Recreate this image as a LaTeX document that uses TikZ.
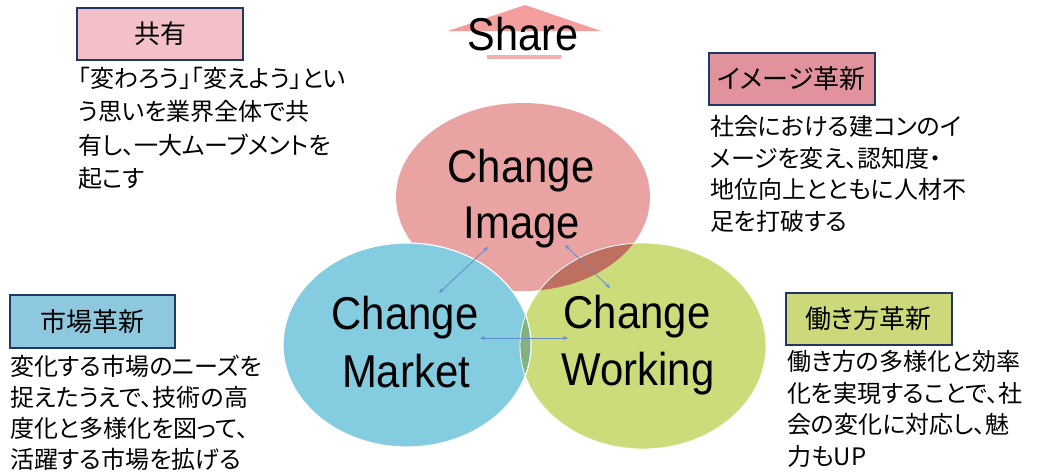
\documentclass[tikz,border=0pt]{standalone}
\usepackage{fontspec}
\setmainfont{Liberation Sans}
\newfontfamily\jp[RawFeature=+palt]{Noto Sans CJK JP}
\usetikzlibrary{arrows.meta}
\definecolor{imgpink}{RGB}{234,163,163}
\definecolor{mktblue}{RGB}{132,204,224}
\definecolor{wrkgreen}{RGB}{204,220,122}
\definecolor{lensrg}{RGB}{190,112,96}
\definecolor{lensbg}{RGB}{128,178,128}
\definecolor{sharepink}{RGB}{244,158,158}
\definecolor{navy}{RGB}{32,56,100}
\definecolor{lbpink}{RGB}{242,192,198}
\definecolor{lbred}{RGB}{226,146,156}
\definecolor{lbblue}{RGB}{142,200,222}
\definecolor{lbgreen}{RGB}{205,216,122}
\definecolor{arrowblue}{RGB}{96,140,205}
\tikzset{
  bigword/.style={font=\fontsize{46}{46}\selectfont, inner sep=0pt, anchor=base},
  labelbox/.style={draw=navy, line width=2pt, minimum width=166pt, minimum height=52pt, inner sep=0pt, font=\jp\fontsize{26}{26}\selectfont},
  bodytext/.style={align=left, anchor=north west, inner sep=0pt, font=\jp\fontsize{24}{32}\selectfont},
  link/.style={arrowblue, line width=0.8pt, {Stealth[length=5pt,width=4pt]}-{Stealth[length=5pt,width=4pt]}}
}
\begin{document}
\begin{tikzpicture}[x=1pt,y=-1pt]
\useasboundingbox (0,0) rectangle (1037,474);
\fill[white] (0,0) rectangle (1037,474);

% Share arrow
\fill[sharepink] (448,31) -- (525,5) -- (601,31) -- cycle;
\fill[sharepink!85] (487,55) rectangle (561,59);
\node[bigword] (share) at (523,50) {\scalebox{0.9}[1]{Share}};

% ellipses
\fill[imgpink] (523,197) ellipse (127 and 94);
\fill[mktblue] (407,345) ellipse (124 and 102);
\fill[wrkgreen] (643,346) ellipse (123 and 103);
\begin{scope}
  \clip (643,346) ellipse (123 and 103);
  \fill[lensrg] (523,197) ellipse (127 and 94);
  \fill[lensbg] (407,345) ellipse (124 and 102);
\end{scope}
\draw[white, line width=1.2pt] (407,345) ellipse (124 and 102);
\draw[white, line width=0.8pt] (643,346) ellipse (123 and 103);

% big words
\node[bigword] (imgA) at (521,182) {\scalebox{0.91}[1]{Change}};
\node[bigword] (imgB) at (522,238) {\scalebox{0.91}[1]{Image}};
\node[bigword] (mktA) at (405,329) {\scalebox{0.91}[1]{Change}};
\node[bigword] (mktB) at (406,387) {\scalebox{0.91}[1]{Market}};
\node[bigword] (wrkA) at (637,328) {\scalebox{0.91}[1]{Change}};
\node[bigword] (wrkB) at (638,385) {\scalebox{0.91}[1]{Working}};

% arrows
\coordinate (p1) at (488,247);
\coordinate (p2) at (439,293);
\coordinate (q1) at (565,245);
\coordinate (q2) at (610,288);
\coordinate (r1) at (480,338);
\coordinate (r2) at (568,338);
\draw[link] (p1) -- (p2);
\draw[link] (q1) -- (q2);
\draw[link] (r1) -- (r2);

% label boxes
\node[labelbox, fill=lbpink] (lshare) at (160,34) {共有};
\node[labelbox, fill=lbred] (limage) at (791.5,79) {イメージ革新};
\node[labelbox, fill=lbblue, minimum height=53pt, minimum width=165pt] (lmarket) at (92.5,321.5) {市場革新};
\node[labelbox, fill=lbgreen] (lwork) at (868.5,319) {働き方革新};

% body texts
\node[bodytext, font=\jp\fontsize{24}{33.3}\selectfont] (tshare) at (78,67) {「変わろう」「変えよう」とい\\う思いを業界全体で共\\有し、一大ムーブメントを\\起こす};
\node[bodytext, font=\jp\fontsize{24}{31.7}\selectfont] (timage) at (710,115) {社会における建コンのイ\\メージを変え、認知度・\\地位向上とともに人材不\\足を打破する};
\node[bodytext, font=\jp\fontsize{24}{31}\selectfont] (tmarket) at (10,355) {変化する市場のニーズを\\捉えたうえで、技術の高\\度化と多様化を図って、\\活躍する市場を拡げる};
\node[bodytext, font=\jp\fontsize{24}{31.7}\selectfont] (twork) at (787,350) {働き方の多様化と効率\\化を実現することで、社\\会の変化に対応し、魅\\力もUP};
\end{tikzpicture}
\end{document}
